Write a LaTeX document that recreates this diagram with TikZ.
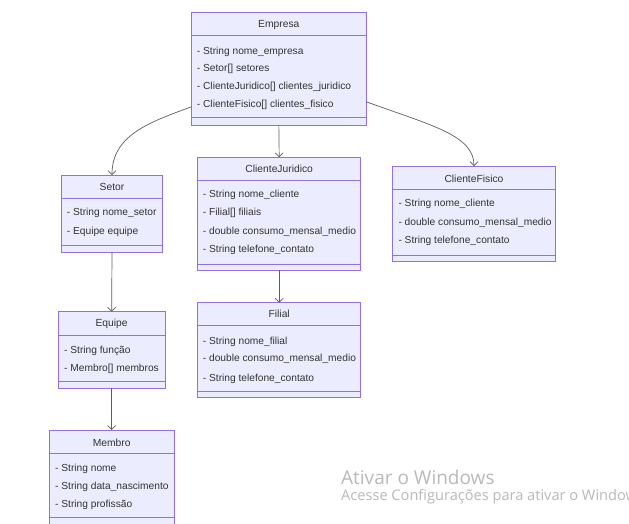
\documentclass[tikz,border=0pt]{standalone}
\usepackage{fontspec}
\setmainfont{Liberation Sans}
\newfontfamily\winfont{Open Sans}
\usetikzlibrary{arrows.meta}
\definecolor{umlfill}{RGB}{236,236,255}
\definecolor{umlborder}{RGB}{147,112,219}
\definecolor{umltext}{RGB}{51,51,51}
\definecolor{umlline}{RGB}{95,95,95}
\definecolor{winmark}{RGB}{185,185,185}

\begin{document}
\begin{tikzpicture}[x=1pt, y=-1pt,
        classbox/.style={draw=umlborder, fill=umlfill, line width=0.9pt, anchor=north west, inner sep=0pt, outer sep=0pt},
        sepline/.style={draw=umlborder, line width=0.9pt},
        classname/.style={text=umltext, inner sep=0pt, font=\fontsize{10.3}{12}\selectfont},
        attr/.style={text=umltext, anchor=west, inner sep=0pt, font=\fontsize{10.2}{12}\selectfont},
        assoc/.style={draw=umlline, line width=0.7pt, -{Straight Barb[length=4pt,width=8pt]}},
        markline/.style={text=winmark, anchor=base west, inner sep=0pt}]

        \useasboundingbox[fill=white] (0,0) rectangle (629,523);

        % Class boxes with their compartments
        \foreach \id/\x/\y/\w/\h/\sa/\sb in {empresa/191.7/12.3/174.3/112.7/22.7/105, setor/61.7/175/100.6/77.3/23.3/70.7, juridico/197.7/157.3/163/112.7/23.4/106.7, fisico/392.3/166/163.4/95/23.3/89, equipe/58.3/311.7/106.7/76.6/23.3/70, filial/197.7/302.7/163/94.6/22.3/88.3, membro/49/430/125.3/94/23.3/87.3} {
            \node[classbox, minimum width=\w, minimum height=\h] (\id) at (\x,\y) {};
            \draw[sepline] (\x,\y) ++(0,\sa) -- ++(\w,0);
            \draw[sepline] (\x,\y) ++(0,\sb) -- ++(\w,0);
        }

        % Class names
        \foreach \id/\ty/\name in {empresa/25/Empresa, setor/187/Setor, juridico/169.3/ClienteJuridico, fisico/179.3/ClienteFisico, equipe/323.5/Equipe, filial/314/Filial, membro/443.3/Membro} {
            \node[classname] (\id-name) at (\id.north |- 0,\ty) {\name};
        }

        % Attributes
        \foreach \ay/\atext [count=\i] in {51.7/- String nome\_empresa, 69.3/- Setor[] setores, 87.3/- ClienteJuridico[] clientes\_juridico, 105/- ClienteFisico[] clientes\_fisico} {
            \node[attr] (empresa-\i) at (196.7,\ay) {\atext};
        }
        \foreach \ay/\atext [count=\i] in {213.3/- String nome\_setor, 231.7/- Equipe equipe} {
            \node[attr] (setor-\i) at (66.7,\ay) {\atext};
        }
        \foreach \ay/\atext [count=\i] in {195.3/- String nome\_cliente, 213.3/- Filial[] filiais, 231.7/- double consumo\_mensal\_medio, 250/- String telefone\_contato} {
            \node[attr] (juridico-\i) at (202.7,\ay) {\atext};
        }
        \foreach \ay/\atext [count=\i] in {204.3/- String nome\_cliente, 222.7/- double consumo\_mensal\_medio, 240.7/- String telefone\_contato} {
            \node[attr] (fisico-\i) at (398.3,\ay) {\atext};
        }
        \foreach \ay/\atext [count=\i] in {350.7/- String função, 369/- Membro[] membros} {
            \node[attr] (equipe-\i) at (64,\ay) {\atext};
        }
        \foreach \ay/\atext [count=\i] in {341.7/- String nome\_filial, 359.3/- double consumo\_mensal\_medio, 379/- String telefone\_contato} {
            \node[attr] (filial-\i) at (202.7,\ay) {\atext};
        }
        \foreach \ay/\atext [count=\i] in {469/- String nome, 487.3/- String data\_nascimento, 505/- String profissão} {
            \node[attr] (membro-\i) at (55,\ay) {\atext};
        }

        % Associations
        \draw[assoc] (empresa.west |- 0,106.7) .. controls (150,122) and (112,135) .. (setor.north);
        \draw[assoc] (empresa.south) -- (juridico.north);
        \draw[assoc] (empresa.east |- 0,101.7) .. controls (430,125) and (474,135) .. (fisico.north);
        \draw[assoc] (setor.south) -- (equipe.north);
        \draw[assoc] (juridico.south) -- (filial.north);
        \draw[assoc] (equipe.south) -- (membro.north);

        % Watermark
        \node[markline, font=\winfont\fontsize{19}{22}\selectfont] (activate) at (341,484.3) {Ativar o Windows};
        \node[markline, font=\winfont\fontsize{14.6}{16}\selectfont] (activatehint) at (341,500) {Acesse Configurações para ativar o Windows};
    \end{tikzpicture}
\end{document}
